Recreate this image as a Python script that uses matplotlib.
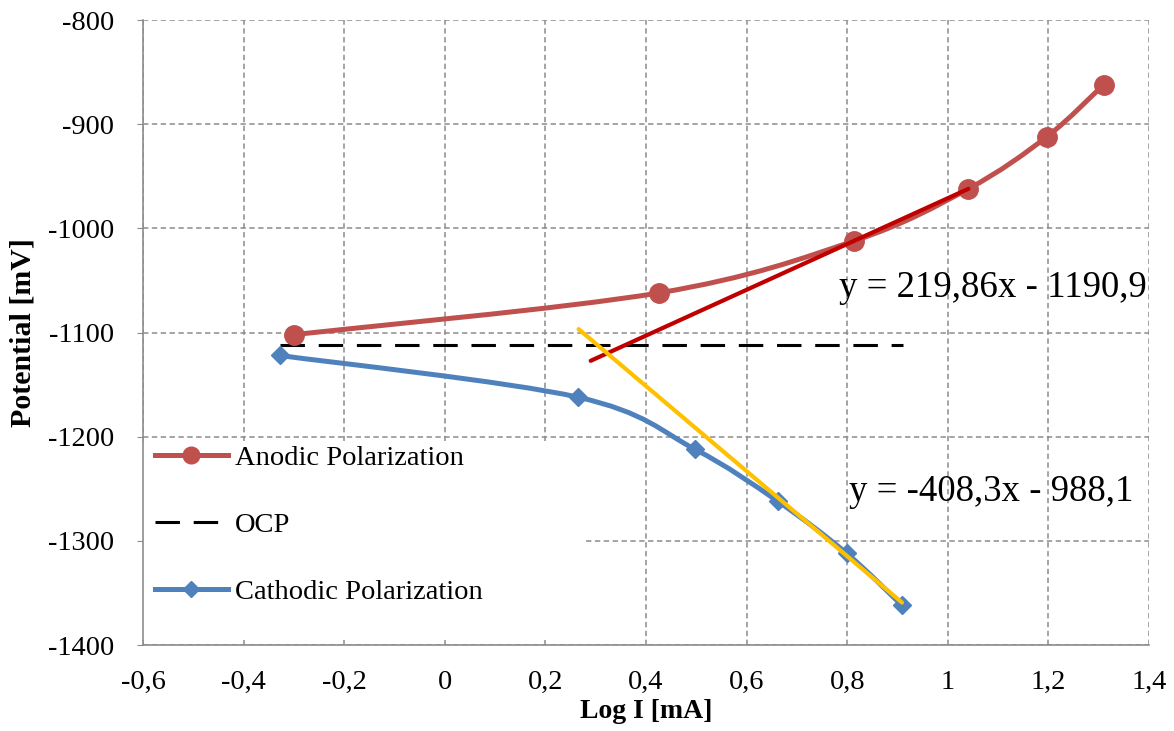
import matplotlib
matplotlib.use("Agg")
import matplotlib.pyplot as plt
from matplotlib.path import Path
from matplotlib.patches import PathPatch, Rectangle
from matplotlib.lines import Line2D
import numpy as np

plt.rcParams['font.family'] = ['Liberation Serif', 'DejaVu Serif']
plt.rcParams['axes.unicode_minus'] = False

# ---- data ----
anodic_x = [-0.30, 0.425, 0.814, 1.041, 1.197, 1.31]
anodic_y = [-1102, -1062, -1012, -962, -912, -862]
cathodic_x = [-0.328, 0.264, 0.497, 0.662, 0.799, 0.909]
cathodic_y = [-1122, -1162, -1212, -1262, -1312, -1362]
ocp_x = [-0.328, 0.91]
ocp_y = [-1112, -1112]
anodic_fit = (219.86, -1190.9)      # slope, intercept
anodic_fit_range = [0.29, 1.041]
cathodic_fit = (-408.3, -988.1)
cathodic_fit_range = [0.266, 0.909]
anodic_eq = "y = 219,86x - 1190,9"
cathodic_eq = "y = -408,3x - 988,1"
xticks = [-0.6, -0.4, -0.2, 0, 0.2, 0.4, 0.6, 0.8, 1.0, 1.2, 1.4]
xtick_labels = ["-0,6", "-0,4", "-0,2", "0", "0,2", "0,4", "0,6", "0,8", "1", "1,2", "1,4"]
yticks = [-1400, -1300, -1200, -1100, -1000, -900, -800]
ytick_labels = ["-1400", "-1300", "-1200", "-1100", "-1000", "-900", "-800"]

C_AN = "#C0504D"
C_CA = "#4F81BD"
C_RED = "#C00000"
C_YEL = "#FFC000"
GRID = "#8c8c8c"


def smooth_path(xs, ys):
    pts = np.column_stack([xs, ys]).astype(float)
    n = len(pts)
    verts = [pts[0]]
    codes = [Path.MOVETO]
    for i in range(n - 1):
        p0 = pts[i - 1] if i > 0 else pts[i]
        p1 = pts[i]
        p2 = pts[i + 1]
        p3 = pts[i + 2] if i + 2 < n else pts[i + 1]
        c1 = p1 + (p2 - p0) / 6.0
        c2 = p2 - (p3 - p1) / 6.0
        verts += [c1, c2, p2]
        codes += [Path.CURVE4] * 3
    return Path(verts, codes)


fig = plt.figure(figsize=(11.74, 7.31), dpi=100)
ax = fig.add_axes([0.1218, 0.1176, 0.8569, 0.855])
ax.set_xlim(-0.6, 1.4)
ax.set_ylim(-1400, -800)
ax.set_axisbelow(True)
ax.grid(True, color=GRID, linestyle=(0, (3.5, 2.3)), linewidth=1.1)

for s in ['top', 'right']:
    ax.spines[s].set_visible(False)
for s in ['left', 'bottom']:
    ax.spines[s].set_color(GRID)
    ax.spines[s].set_linewidth(1.2)

ax.set_xticks(xticks)
ax.set_xticklabels(xtick_labels, fontsize=20.5)
ax.set_yticks(yticks)
ax.set_yticklabels(ytick_labels, fontsize=20.5)
ax.tick_params(axis='x', length=0, pad=18)
ax.tick_params(axis='y', direction='out', length=4, color=GRID, pad=17)

ax.set_xlabel("Log I [mA]", fontsize=20, fontweight='bold', labelpad=3)
ax.set_ylabel("Potential [mV]", fontsize=21.5, fontweight='bold', labelpad=8)

# white legend area covering grid
ax.add_patch(Rectangle((0, 0.008), 0.44, 0.318, transform=ax.transAxes,
                       facecolor='white', edgecolor='none', zorder=0.7))

# anodic
ax.add_patch(PathPatch(smooth_path(anodic_x, anodic_y), facecolor='none',
                       edgecolor=C_AN, linewidth=3.6, zorder=3, capstyle='round'))
ax.plot(anodic_x, anodic_y, linestyle='none', marker='o', markersize=14,
        color=C_AN, zorder=4)

# cathodic
ax.add_patch(PathPatch(smooth_path(cathodic_x, cathodic_y), facecolor='none',
                       edgecolor=C_CA, linewidth=3.6, zorder=3, capstyle='round'))
ax.plot(cathodic_x, cathodic_y, linestyle='none', marker='D', markersize=9.5,
        color=C_CA, zorder=4)

# OCP
ax.plot(ocp_x, ocp_y, color='black', linewidth=2.2, dashes=(8, 4.5), zorder=3)

# trendlines
ax_x = np.array(anodic_fit_range)
ax.plot(ax_x, anodic_fit[0] * ax_x + anodic_fit[1], color=C_RED,
        linewidth=3.0, solid_capstyle='round', zorder=5)
ca_x = np.array(cathodic_fit_range)
ax.plot(ca_x, cathodic_fit[0] * ca_x + cathodic_fit[1], color=C_YEL,
        linewidth=3.0, solid_capstyle='round', zorder=5)

ax.text(0.783, -1057, anodic_eq, fontsize=26.5, va='center', ha='left', zorder=6)
ax.text(0.803, -1253, cathodic_eq, fontsize=26.5, va='center', ha='left', zorder=6)

handles = [
    Line2D([], [], color=C_AN, linewidth=3.6, marker='o', markersize=12),
    Line2D([], [], color='black', linewidth=2.2, dashes=(8, 4.5)),
    Line2D([], [], color=C_CA, linewidth=3.6, marker='D', markersize=8.5),
]
ax.legend(handles, ["Anodic Polarization", "OCP", "Cathodic Polarization"],
          loc='upper left', bbox_to_anchor=(0.012, 0.32), frameon=False,
          fontsize=20.5, handlelength=2.55, handletextpad=0.25,
          labelspacing=1.45, borderpad=0, borderaxespad=0, numpoints=1)

fig.savefig("out.png", dpi=100)
